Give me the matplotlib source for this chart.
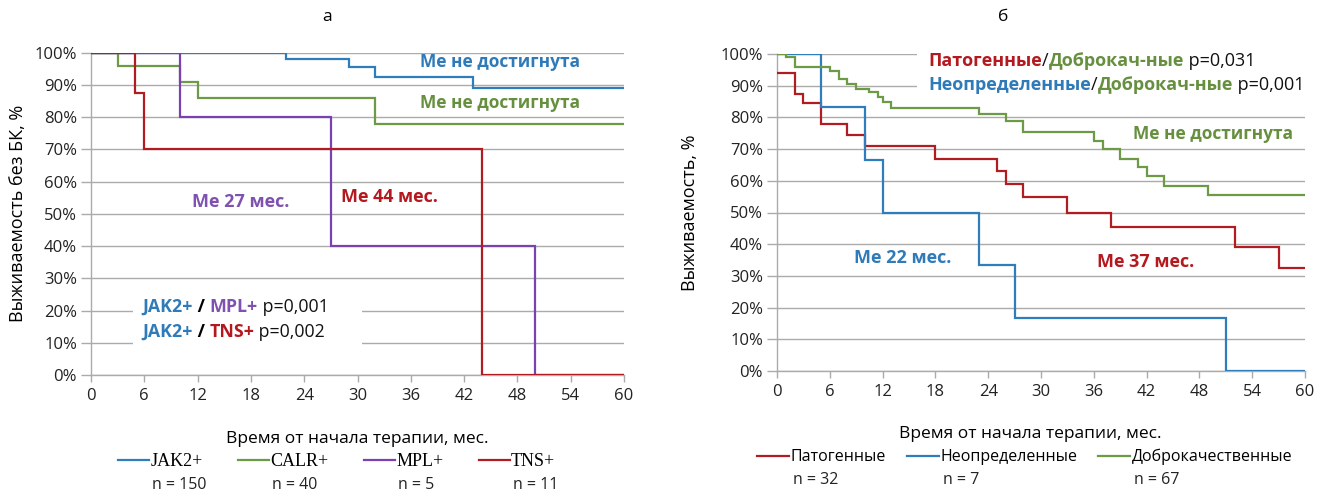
import matplotlib
matplotlib.use("Agg")
import matplotlib.pyplot as plt
from matplotlib.offsetbox import TextArea, HPacker, AnnotationBbox
from matplotlib.patches import Rectangle
from matplotlib.ticker import FuncFormatter

plt.rcParams['font.family'] = ['Open Sans', 'DejaVu Sans']

# ---- panel "а": relapse-free survival by driver mutation ----
jak2_t = [0, 22, 29, 32, 43]
jak2_s = [100, 98, 95.5, 92.5, 89]
calr_t = [0, 3, 10, 12, 32]
calr_s = [100, 96, 91, 86, 78]
mpl_t = [0, 10, 27, 50]
mpl_s = [100, 80, 40, 0]
tns_t = [0, 5, 6, 44]
tns_s = [100, 87.5, 70, 0]
groups_a = ["JAK2+", "CALR+", "MPL+", "TNS+"]
counts_a = [150, 40, 5, 11]

# ---- panel "б": survival by variant class ----
pat_t = [0, 2, 3, 5, 8, 10, 18, 25, 26, 28, 33, 38, 52, 57]
pat_s = [94, 87.5, 84.5, 78, 74.5, 71, 67, 63, 59, 55, 50, 45.5, 39, 32.5]
unk_t = [0, 5, 10, 12, 23, 27, 51]
unk_s = [100, 83.3, 66.7, 50, 33.3, 16.7, 0]
ben_t = [0, 1, 2, 6, 7, 8, 9, 10.5, 11.5, 12, 13, 23, 26, 28, 36, 37, 39, 41, 42, 44, 49]
ben_s = [100, 99, 96, 94.5, 92, 90.5, 89, 88, 86.5, 85, 83, 81, 79, 75.5, 72.5,
         70, 67, 64.5, 61.5, 58.5, 55.5]
groups_b = ["Патогенные", "Неопределенные", "Доброкачественные"]
counts_b = [32, 7, 67]

x_ticks = list(range(0, 61, 6))
y_ticks = list(range(0, 101, 10))
T_END = 60

BLUE = '#2f7dbb'
GREEN = '#6c9a46'
PURPLE = '#7a41b0'
RED = '#b11c22'
T_BLUE = '#2f7ab8'
T_GREEN = '#66903f'
T_PURPLE = '#8052b0'
T_RED = '#b4191f'
GRID = '#ababab'

W, H = 1332, 493
fig = plt.figure(figsize=(W / 100, H / 100), dpi=100)

ax_a = fig.add_axes([91 / W, 1 - 375 / H, 533 / W, 322.3 / H])
ax_b = fig.add_axes([777 / W, 1 - 371 / H, 528 / W, 317 / H])


def style_axes(ax):
    ax.set_xlim(0, T_END)
    ax.set_ylim(0, 100)
    ax.set_xticks(x_ticks)
    ax.set_yticks(y_ticks)
    ax.yaxis.set_major_formatter(FuncFormatter(lambda v, p: f"{int(v)}%"))
    ax.grid(axis='y', color=GRID, linewidth=1.0, zorder=0)
    ax.set_axisbelow(True)
    for s in ('top', 'right'):
        ax.spines[s].set_visible(False)
    for s in ('left', 'bottom'):
        ax.spines[s].set_color(GRID)
        ax.spines[s].set_linewidth(1.0)
    ax.tick_params(axis='y', length=7, width=1.0, color=GRID, pad=3,
                   labelsize=12, labelcolor='#222222')
    ax.tick_params(axis='x', length=5, width=1.0, color=GRID, pad=4,
                   labelsize=12, labelcolor='#222222')


def km(ax, t, s, color):
    tt = list(t) + [T_END]
    ss = list(s) + [s[-1]]
    return ax.step(tt, ss, where='post', color=color, linewidth=1.6,
                   solid_joinstyle='miter', zorder=3)[0]


def rich(ax, x, y, pieces, size, align=(0.0, 0.5)):
    areas = [TextArea(txt, textprops=dict(color=c, fontsize=size,
                                          fontweight=w))
             for txt, c, w in pieces]
    box = HPacker(children=areas, align='baseline', pad=0, sep=0)
    ab = AnnotationBbox(box, (x, y), xycoords='data', frameon=False,
                        box_alignment=align, pad=0, zorder=6,
                        annotation_clip=False)
    ax.add_artist(ab)


style_axes(ax_a)
style_axes(ax_b)

# panel а curves
h_jak2 = km(ax_a, jak2_t, jak2_s, BLUE)
h_calr = km(ax_a, calr_t, calr_s, GREEN)
h_mpl = km(ax_a, mpl_t, mpl_s, PURPLE)
h_tns = km(ax_a, tns_t, tns_s, RED)

ax_a.set_ylabel("Выживаемость без БК, %", fontsize=13)
ax_a.yaxis.set_label_coords(-0.12, 0.5)
ax_a.set_xlabel("Время от начала терапии, мес.", fontsize=12.5)
ax_a.xaxis.set_label_coords(0.5, -0.173)
ax_a.set_title("а", fontsize=12.5, x=(327 - 91) / 533, y=1.0, pad=23)

bold = 'bold'
ax_a.text(46, 97.1, "Ме не достигнута", color=T_BLUE, fontsize=12.5,
          fontweight=bold, ha='center', va='center', zorder=6)
ax_a.text(46, 84.4, "Ме не достигнута", color=T_GREEN, fontsize=12.5,
          fontweight=bold, ha='center', va='center', zorder=6)
ax_a.text(16.9, 53.7, "Ме 27 мес.", color=T_PURPLE, fontsize=13,
          fontweight=bold, ha='center', va='center', zorder=6)
ax_a.text(33.6, 55.2, "Ме 44 мес.", color=T_RED, fontsize=13,
          fontweight=bold, ha='center', va='center', zorder=6)

ax_a.add_patch(Rectangle((0.079, 0.093), 0.43, 0.155, transform=ax_a.transAxes,
                         facecolor='white', edgecolor='none', zorder=1))
rich(ax_a, 5.8, 21.1, [("JAK2+", T_BLUE, bold), (" / ", 'black', bold),
                       ("MPL+", T_PURPLE, bold), (" p=0,001", '#111111', 'normal')], 12.8)
rich(ax_a, 5.8, 13.3, [("JAK2+", T_BLUE, bold), (" / ", 'black', bold),
                       ("TNS+", T_RED, bold), (" p=0,002", '#111111', 'normal')], 12.8)

# panel б curves
h_pat = km(ax_b, pat_t, pat_s, RED)
h_unk = km(ax_b, unk_t, unk_s, BLUE)
h_ben = km(ax_b, ben_t, ben_s, GREEN)

ax_b.set_ylabel("Выживаемость, %", fontsize=13)
ax_b.yaxis.set_label_coords(-0.148, 0.5)
ax_b.set_xlabel("Время от начала терапии, мес.", fontsize=12.5)
ax_b.xaxis.set_label_coords(0.48, -0.173)
ax_b.set_title("б", fontsize=12.5, x=(1003 - 777) / 528, y=1.0, pad=24)

ax_b.add_patch(Rectangle((0.265, 0.84), 0.8, 0.2, transform=ax_b.transAxes,
                         facecolor='white', edgecolor='none', zorder=1,
                         clip_on=False))
rich(ax_b, 17.2, 97.8, [("Патогенные", T_RED, bold), ("/", '#111111', 'normal'),
                        ("Доброкач-ные", T_GREEN, bold), (" p=0,031", '#111111', 'normal')], 13)
rich(ax_b, 17.2, 90.2, [("Неопределенные", T_BLUE, bold), ("/", '#111111', 'normal'),
                        ("Доброкач-ные", T_GREEN, bold), (" p=0,001", '#111111', 'normal')], 13)
ax_b.text(49.5, 74.8, "Ме не достигнута", color=T_GREEN, fontsize=12.5,
          fontweight=bold, ha='center', va='center', zorder=6)
ax_b.text(41.9, 34.4, "Ме 37 мес.", color=T_RED, fontsize=13,
          fontweight=bold, ha='center', va='center', zorder=6)
ax_b.text(14.3, 35.6, "Ме 22 мес.", color=T_BLUE, fontsize=13,
          fontweight=bold, ha='center', va='center', zorder=6)

# legends with group sizes underneath
leg_a = fig.legend([h_jak2, h_calr, h_mpl, h_tns], groups_a, loc='center',
                   bbox_to_anchor=(336.5 / W, 1 - 462 / H), ncol=4, frameon=False,
                   handlelength=1.75, handletextpad=0.05, columnspacing=1.95,
                   prop={'family': 'Liberation Serif', 'size': 13})
leg_b = fig.legend([h_pat, h_unk, h_ben], groups_b, loc='center',
                   bbox_to_anchor=(1025 / W, 1 - 457 / H), ncol=3, frameon=False,
                   handlelength=2.0, handletextpad=0.1, columnspacing=1.3,
                   prop={'size': 11.5})

fig.canvas.draw()
renderer = fig.canvas.get_renderer()
inv = fig.transFigure.inverted()
for leg, counts, y_px in ((leg_a, counts_a, 485), (leg_b, counts_b, 480)):
    for txt, n in zip(leg.get_texts(), counts):
        bb = txt.get_window_extent(renderer)
        x0, _ = inv.transform((bb.x0 + 2, 0))
        fig.text(x0, 1 - y_px / H, f"n = {n}", ha='left', va='center',
                 fontsize=11.5, color='#222222')

fig.savefig("out.png", dpi=100, facecolor='white')
